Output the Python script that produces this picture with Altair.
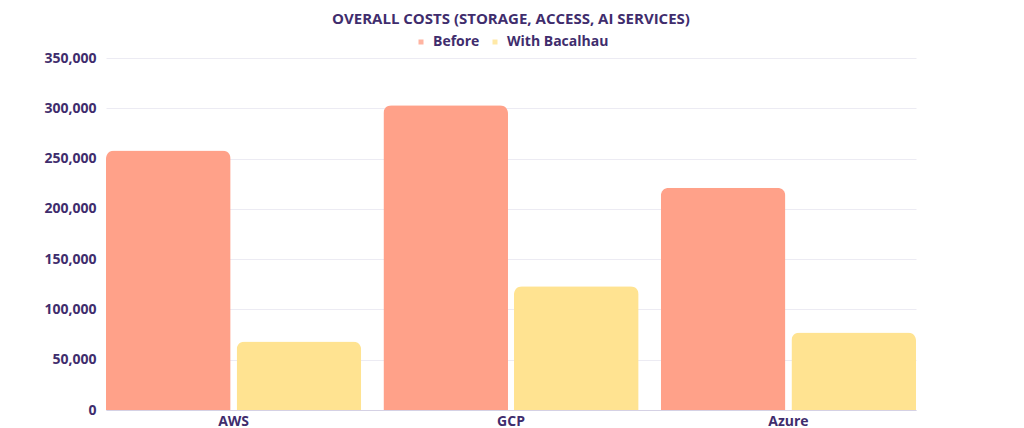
import altair as alt
import pandas as pd

providers = ["AWS", "GCP", "Azure"]
series = ["Before", "With Bacalhau"]
before = [258000, 303000, 221000]
with_bacalhau = [68000, 123000, 77000]
y_ticks = [0, 50000, 100000, 150000, 200000, 250000, 300000, 350000]

rows = []
for p, b, w in zip(providers, before, with_bacalhau):
    rows.append({"provider": p, "series": series[0], "cost": b})
    rows.append({"provider": p, "series": series[1], "cost": w})
df = pd.DataFrame(rows)

TEXT = "#3F2D6D"
FONT = "Open Sans"

chart = (
    alt.Chart(df)
    .mark_bar(cornerRadiusTopLeft=8, cornerRadiusTopRight=8)
    .encode(
        x=alt.X(
            "provider:N",
            sort=providers,
            scale=alt.Scale(paddingInner=0.08, paddingOuter=0),
            axis=alt.Axis(
                title=None,
                labelAngle=0,
                ticks=False,
                domainColor="#D5D1E4",
                labelPadding=4,
                labelFontSize=14,
                labelFontWeight="bold",
                labelColor=TEXT,
                labelFont=FONT,
                grid=False,
            ),
        ),
        xOffset=alt.XOffset(
            "series:N", sort=series, scale=alt.Scale(paddingInner=0.046, paddingOuter=0)
        ),
        y=alt.Y(
            "cost:Q",
            scale=alt.Scale(domain=[0, 350000], nice=False),
            axis=alt.Axis(
                title=None,
                values=y_ticks,
                format=",.0f",
                domain=False,
                ticks=False,
                labelPadding=10,
                labelFontSize=14,
                labelFontWeight="bold",
                labelColor=TEXT,
                labelFont=FONT,
                gridColor="#ECEBF3",
                gridWidth=1,
            ),
        ),
        color=alt.Color(
            "series:N",
            sort=series,
            scale=alt.Scale(domain=series, range=["#FFA189", "#FFE391"]),
            legend=alt.Legend(
                title=None,
                orient="none",
                direction="horizontal",
                legendX=308,
                legendY=-23,
                symbolType="square",
                symbolSize=25,
                symbolOpacity=0.8,
                labelFontSize=14,
                labelFontWeight="bold",
                labelColor=TEXT,
                labelFont=FONT,
                labelOffset=5,
                columnPadding=8,
                padding=0,
            ),
        ),
    )
    .properties(
        width=810,
        height=352,
        title=alt.TitleParams(
            "OVERALL COSTS (STORAGE, ACCESS, AI SERVICES)",
            anchor="middle",
            frame="group",
            fontSize=15,
            fontWeight="bold",
            color=TEXT,
            font=FONT,
            offset=8,
        ),
        autosize=alt.AutoSizeParams(type="none"),
        padding={"left": 98, "top": 50, "right": 100, "bottom": 18},
    )
    .configure_view(stroke=None)
)

chart.save("out.html", embed_options={"renderer": "svg", "actions": False})
